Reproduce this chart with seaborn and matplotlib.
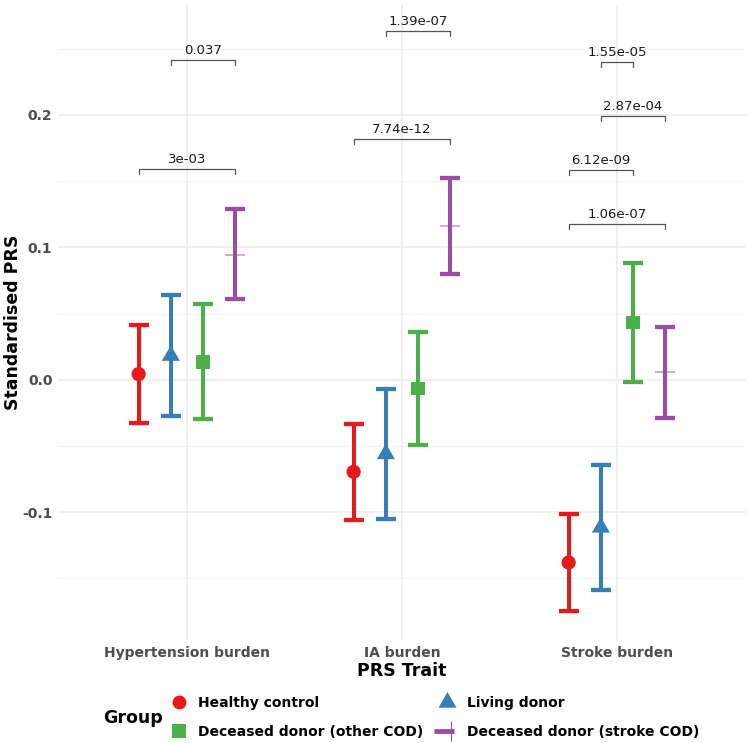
import numpy as np
import pandas as pd
import matplotlib
matplotlib.use("Agg")
import matplotlib.pyplot as plt
from matplotlib.path import Path
from matplotlib.lines import Line2D
from matplotlib.legend_handler import HandlerTuple
import seaborn as sns

# ---- data ----
traits = ["Hypertension burden", "IA burden", "Stroke burden"]
groups = ["Healthy control", "Living donor",
          "Deceased donor (other COD)", "Deceased donor (stroke COD)"]

healthy_mean = [0.0043, -0.0695, -0.1380]
healthy_lo = [-0.0325, -0.1060, -0.1744]
healthy_hi = [0.0416, -0.0335, -0.1015]

living_mean = [0.0182, -0.0560, -0.1115]
living_lo = [-0.0272, -0.1048, -0.1587]
living_hi = [0.0640, -0.0073, -0.0640]

other_mean = [0.0134, -0.0065, 0.0432]
other_lo = [-0.0297, -0.0491, -0.0020]
other_hi = [0.0569, 0.0363, 0.0884]

stroke_mean = [0.0945, 0.1162, 0.0055]
stroke_lo = [0.0612, 0.0801, -0.0290]
stroke_hi = [0.1290, 0.1522, 0.0398]

# significance brackets
p_labels = ["3e-03", "0.037", "7.74e-12", "1.39e-07",
            "1.06e-07", "6.12e-09", "2.87e-04", "1.55e-05"]
p_trait = ["Hypertension burden", "Hypertension burden", "IA burden", "IA burden",
           "Stroke burden", "Stroke burden", "Stroke burden", "Stroke burden"]
p_from = ["Healthy control", "Living donor", "Healthy control", "Living donor",
          "Healthy control", "Healthy control", "Living donor", "Living donor"]
p_to = ["Deceased donor (stroke COD)", "Deceased donor (stroke COD)",
        "Deceased donor (stroke COD)", "Deceased donor (stroke COD)",
        "Deceased donor (stroke COD)", "Deceased donor (other COD)",
        "Deceased donor (stroke COD)", "Deceased donor (other COD)"]
p_y = [0.1595, 0.2414, 0.1819, 0.2633, 0.1179, 0.1582, 0.1990, 0.2398]

ytick_vals = [-0.1, 0.0, 0.1, 0.2]
ytick_labels = ["-0.1", "0.0", "0.1", "0.2"]

colors = ["#E41A1C", "#377EB8", "#4DAF4A", "#984EA3"]
palette = dict(zip(groups, colors))

# ---- table ----
means = [healthy_mean, living_mean, other_mean, stroke_mean]
lows = [healthy_lo, living_lo, other_lo, stroke_lo]
highs = [healthy_hi, living_hi, other_hi, stroke_hi]
rows = []
for g, m, lo, hi in zip(groups, means, lows, highs):
    for t, mv, lv, hv in zip(traits, m, lo, hi):
        rows.append({"group": g, "trait": t, "mean": mv, "lo": lv, "hi": hv})
df = pd.DataFrame(rows)

trait_idx = {t: i for i, t in enumerate(traits)}
offsets = dict(zip(groups, np.linspace(-0.225, 0.225, len(groups))))
df["xpos"] = df["trait"].map(trait_idx) + df["group"].map(offsets)

# markers
tri = Path([(0, 1), (-0.866, -0.5), (0.866, -0.5), (0, 1)],
           [Path.MOVETO, Path.LINETO, Path.LINETO, Path.CLOSEPOLY])
bar = Path([(-1, -0.08), (1, -0.08), (1, 0.08), (-1, 0.08), (-1, -0.08)],
           [Path.MOVETO, Path.LINETO, Path.LINETO, Path.LINETO, Path.CLOSEPOLY])
markers = {groups[0]: "o", groups[1]: tri, groups[2]: "s"}
sizes = {groups[0]: 105, groups[1]: 225, groups[2]: 95}

# ---- plot ----
sns.set_theme(style="white")
plt.rcParams["font.family"] = ["DejaVu Sans"]
plt.rcParams["axes.unicode_minus"] = False

fig = plt.figure(figsize=(7.49, 7.43), dpi=100)
ax = fig.add_axes([58 / 749, 1 - 640 / 743, 688 / 749, 635 / 743])

for g in groups:
    sub = df[df["group"] == g]
    ax.errorbar(sub["xpos"], sub["mean"],
                yerr=[sub["mean"] - sub["lo"], sub["hi"] - sub["mean"]],
                fmt="none", ecolor=palette[g], elinewidth=2.9,
                capsize=7.5, capthick=3.1, zorder=2)

filled = df[df["group"] != groups[3]]
sns.scatterplot(data=filled, x="xpos", y="mean", hue="group", style="group",
                size="group", palette=palette, markers=markers, sizes=sizes,
                linewidth=0, legend=False, ax=ax, zorder=3)
sns.scatterplot(data=df[df["group"] == groups[3]], x="xpos", y="mean",
                color=colors[3], marker=bar, s=225, linewidth=0, alpha=0.45,
                legend=False, ax=ax, zorder=3)

# brackets
tick = 0.0038
for lab, t, a, b, y in zip(p_labels, p_trait, p_from, p_to, p_y):
    x1 = trait_idx[t] + offsets[a]
    x2 = trait_idx[t] + offsets[b]
    ax.plot([x1, x1, x2, x2], [y - tick, y, y, y - tick], color="#555555", lw=0.9, zorder=2)
    ax.annotate(lab, ((x1 + x2) / 2, y), xytext=(0, 2), textcoords="offset points",
                ha="center", va="bottom", fontsize=9.5, color="#1A1A1A")

ax.set_xlim(-0.6, 2.6)
ax.set_ylim(-0.1965, 0.283)
ax.set_xticks(range(len(traits)), traits)
ax.set_yticks(ytick_vals, ytick_labels)
ax.set_yticks([-0.15, -0.05, 0.05, 0.15, 0.25], minor=True)
ax.grid(True, which="major", color="#EBEBEB", lw=1.1)
ax.grid(True, which="minor", axis="y", color="#F2F2F2", lw=0.7)
ax.set_axisbelow(True)
ax.tick_params(which="both", length=0, labelsize=10, labelcolor="#4D4D4D")
ax.tick_params(axis="x", pad=4)
ax.tick_params(axis="y", pad=4)
for lab in ax.get_xticklabels() + ax.get_yticklabels():
    lab.set_fontweight("bold")
for s in ax.spines.values():
    s.set_visible(False)

ax.set_xlabel("PRS Trait", fontsize=12.5, fontweight="bold", color="black", labelpad=2)
ax.set_ylabel("Standardised PRS", fontsize=12.5, fontweight="bold", color="black", labelpad=0)

# legend
handles = [
    Line2D([], [], ls="none", marker="o", ms=10, color=colors[0], mew=0),
    Line2D([], [], ls="none", marker=tri, ms=15, color=colors[1], mew=0),
    Line2D([], [], ls="none", marker="s", ms=9.6, color=colors[2], mew=0),
    (Line2D([], [], ls="none", marker="_", ms=14, mew=3.5, color=colors[3]),
     Line2D([], [], ls="none", marker="|", ms=14, mew=0.8, color=colors[3])),
]
order = [0, 2, 1, 3]
fig.legend([handles[i] for i in order], [groups[i] for i in order],
           handler_map={tuple: HandlerTuple(ndivide=None)},
           ncol=2, loc="upper left", bbox_to_anchor=(172 / 749, 1 - 696 / 743),
           frameon=False, borderpad=0, borderaxespad=0, handlelength=1.0,
           handletextpad=0.9, columnspacing=1.2, labelspacing=1.05,
           prop={"weight": "bold", "size": 10}, labelcolor="black")
fig.text(103 / 749, 1 - 718 / 743, "Group", fontsize=12.5, fontweight="bold",
         va="center", color="black")

fig.savefig("out.png", dpi=100, facecolor="white")
